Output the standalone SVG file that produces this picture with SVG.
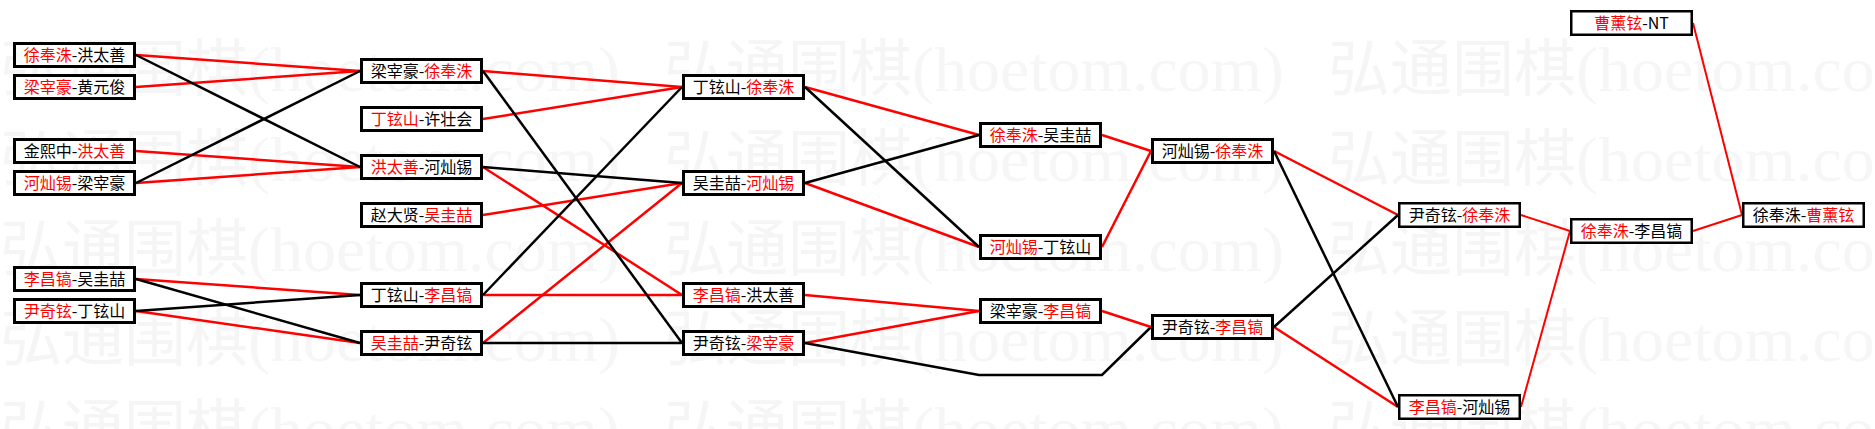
<svg xmlns="http://www.w3.org/2000/svg" xmlns:xlink="http://www.w3.org/1999/xlink" width="1875" height="429" viewBox="0 0 1875 429">
<style>
.bg{fill:#fff}
.wmc{font-family:"Noto Sans CJK SC",sans-serif;font-size:62px;fill:#f5f5f5}
.wml{font-family:"Liberation Serif","Noto Sans CJK SC",serif;font-size:64px;fill:#f6f6f6}
.n rect{fill:#fff;stroke:#000;stroke-width:3}
.n.s rect{stroke-width:2.5}
.n text{font-family:"Noto Sans CJK SC",sans-serif;font-size:16px;text-anchor:middle;fill:#000}
.w{fill:#f00}
.c line,.c polyline{fill:none;stroke-width:2.5}
.c .t{stroke-width:2}
.r{stroke:#f00}
.k{stroke:#000}
</style>
<defs>
<g id="wm"><text class="wmc" x="0" y="0">弘通围棋</text><text class="wml" x="248" y="0" textLength="372" lengthAdjust="spacingAndGlyphs">(hoetom.com)</text></g>
</defs>
<rect class="bg" x="0" y="0" width="1875" height="429"/>
<g id="watermark">
<use xlink:href="#wm" x="0" y="91"/><use xlink:href="#wm" x="664" y="91"/><use xlink:href="#wm" x="1328" y="91"/>
<use xlink:href="#wm" x="0" y="181"/><use xlink:href="#wm" x="664" y="181"/><use xlink:href="#wm" x="1328" y="181"/>
<use xlink:href="#wm" x="0" y="271"/><use xlink:href="#wm" x="664" y="271"/><use xlink:href="#wm" x="1328" y="271"/>
<use xlink:href="#wm" x="0" y="361"/><use xlink:href="#wm" x="664" y="361"/><use xlink:href="#wm" x="1328" y="361"/>
<use xlink:href="#wm" x="0" y="451"/><use xlink:href="#wm" x="664" y="451"/><use xlink:href="#wm" x="1328" y="451"/>
</g>
<g id="connectors" class="c">
<line class="r" x1="136" y1="55" x2="360" y2="71"/>
<line class="r" x1="136" y1="87" x2="360" y2="71"/>
<line class="r" x1="136" y1="151" x2="360" y2="167"/>
<line class="r" x1="136" y1="183" x2="360" y2="167"/>
<line class="r" x1="136" y1="279" x2="360" y2="295"/>
<line class="r" x1="136" y1="311" x2="360" y2="343"/>
<line class="k" x1="136" y1="55" x2="360" y2="167"/>
<line class="k" x1="136" y1="183" x2="360" y2="71"/>
<line class="k" x1="136" y1="279" x2="360" y2="343"/>
<line class="k" x1="136" y1="311" x2="360" y2="295"/>
<line class="r" x1="483" y1="71" x2="682" y2="87"/>
<line class="r" x1="483" y1="119" x2="682" y2="87"/>
<line class="r" x1="483" y1="167" x2="682" y2="295"/>
<line class="r" x1="483" y1="215" x2="682" y2="183"/>
<line class="r" x1="483" y1="295" x2="682" y2="295"/>
<line class="r" x1="483" y1="343" x2="682" y2="183"/>
<line class="k" x1="483" y1="71" x2="682" y2="343"/>
<line class="k" x1="483" y1="167" x2="682" y2="183"/>
<line class="k" x1="483" y1="295" x2="682" y2="87"/>
<line class="k" x1="483" y1="343" x2="682" y2="343"/>
<line class="r" x1="805" y1="87" x2="979" y2="135"/>
<line class="r" x1="805" y1="183" x2="979" y2="247"/>
<line class="r" x1="805" y1="295" x2="979" y2="311"/>
<line class="r" x1="805" y1="343" x2="979" y2="311"/>
<line class="k" x1="805" y1="87" x2="979" y2="247"/>
<line class="k" x1="805" y1="183" x2="979" y2="135"/>
<polyline class="k" points="805,343 979,375 1102,375 1151,327"/>
<line class="r" x1="1102" y1="135" x2="1151" y2="151"/>
<line class="r" x1="1102" y1="247" x2="1151" y2="151"/>
<line class="r" x1="1102" y1="311" x2="1151" y2="327"/>
<line class="r" x1="1274" y1="151" x2="1398" y2="215"/>
<line class="r" x1="1274" y1="327" x2="1398" y2="407"/>
<line class="k" x1="1274" y1="151" x2="1398" y2="407"/>
<line class="k" x1="1274" y1="327" x2="1398" y2="215"/>
<line class="r t" x1="1521" y1="215" x2="1570" y2="231"/>
<line class="r t" x1="1521" y1="407" x2="1570" y2="231"/>
<line class="r t" x1="1693" y1="231" x2="1742" y2="215"/>
<line class="r t" x1="1693" y1="23" x2="1742" y2="215"/>
</g>
<g id="n-a1" class="n"><rect x="14.5" y="43.5" width="120" height="23"/><text x="74.5" y="61"><tspan class="w">徐奉洙</tspan>-洪太善</text></g>
<g id="n-a2" class="n"><rect x="14.5" y="75.5" width="120" height="23"/><text x="74.5" y="93"><tspan class="w">梁宰豪</tspan>-黄元俊</text></g>
<g id="n-a3" class="n"><rect x="14.5" y="139.5" width="120" height="23"/><text x="74.5" y="157">金熙中-<tspan class="w">洪太善</tspan></text></g>
<g id="n-a4" class="n"><rect x="14.5" y="171.5" width="120" height="23"/><text x="74.5" y="189"><tspan class="w">河灿锡</tspan>-梁宰豪</text></g>
<g id="n-a5" class="n"><rect x="14.5" y="267.5" width="120" height="23"/><text x="74.5" y="285"><tspan class="w">李昌镐</tspan>-吴圭喆</text></g>
<g id="n-a6" class="n"><rect x="14.5" y="299.5" width="120" height="23"/><text x="74.5" y="317"><tspan class="w">尹奇铉</tspan>-丁铉山</text></g>
<g id="n-b1" class="n"><rect x="361.5" y="59.5" width="120" height="23"/><text x="421.5" y="77">梁宰豪-<tspan class="w">徐奉洙</tspan></text></g>
<g id="n-b2" class="n"><rect x="361.5" y="107.5" width="120" height="23"/><text x="421.5" y="125"><tspan class="w">丁铉山</tspan>-许壮会</text></g>
<g id="n-b3" class="n"><rect x="361.5" y="155.5" width="120" height="23"/><text x="421.5" y="173"><tspan class="w">洪太善</tspan>-河灿锡</text></g>
<g id="n-b4" class="n"><rect x="361.5" y="203.5" width="120" height="23"/><text x="421.5" y="221">赵大贤-<tspan class="w">吴圭喆</tspan></text></g>
<g id="n-b5" class="n"><rect x="361.5" y="283.5" width="120" height="23"/><text x="421.5" y="301">丁铉山-<tspan class="w">李昌镐</tspan></text></g>
<g id="n-b6" class="n"><rect x="361.5" y="331.5" width="120" height="23"/><text x="421.5" y="349"><tspan class="w">吴圭喆</tspan>-尹奇铉</text></g>
<g id="n-c1" class="n"><rect x="683.5" y="75.5" width="120" height="23"/><text x="743.5" y="93">丁铉山-<tspan class="w">徐奉洙</tspan></text></g>
<g id="n-c2" class="n"><rect x="683.5" y="171.5" width="120" height="23"/><text x="743.5" y="189">吴圭喆-<tspan class="w">河灿锡</tspan></text></g>
<g id="n-c3" class="n"><rect x="683.5" y="283.5" width="120" height="23"/><text x="743.5" y="301"><tspan class="w">李昌镐</tspan>-洪太善</text></g>
<g id="n-c4" class="n"><rect x="683.5" y="331.5" width="120" height="23"/><text x="743.5" y="349">尹奇铉-<tspan class="w">梁宰豪</tspan></text></g>
<g id="n-d1" class="n"><rect x="980.5" y="123.5" width="120" height="23"/><text x="1040.5" y="141"><tspan class="w">徐奉洙</tspan>-吴圭喆</text></g>
<g id="n-d2" class="n"><rect x="980.5" y="235.5" width="120" height="23"/><text x="1040.5" y="253"><tspan class="w">河灿锡</tspan>-丁铉山</text></g>
<g id="n-d3" class="n"><rect x="980.5" y="299.5" width="120" height="23"/><text x="1040.5" y="317">梁宰豪-<tspan class="w">李昌镐</tspan></text></g>
<g id="n-e1" class="n"><rect x="1152.5" y="139.5" width="120" height="23"/><text x="1212.5" y="157">河灿锡-<tspan class="w">徐奉洙</tspan></text></g>
<g id="n-e2" class="n"><rect x="1152.5" y="315.5" width="120" height="23"/><text x="1212.5" y="333">尹奇铉-<tspan class="w">李昌镐</tspan></text></g>
<g id="n-f1" class="n s"><rect x="1399.25" y="203.25" width="120.5" height="23.5"/><text x="1459.5" y="221">尹奇铉-<tspan class="w">徐奉洙</tspan></text></g>
<g id="n-f2" class="n s"><rect x="1399.25" y="395.25" width="120.5" height="23.5"/><text x="1459.5" y="413"><tspan class="w">李昌镐</tspan>-河灿锡</text></g>
<g id="n-g0" class="n s"><rect x="1571.25" y="11.25" width="120.5" height="23.5"/><text x="1631.5" y="29"><tspan class="w">曹薰铉</tspan>-NT</text></g>
<g id="n-g1" class="n s"><rect x="1571.25" y="219.25" width="120.5" height="23.5"/><text x="1631.5" y="237"><tspan class="w">徐奉洙</tspan>-李昌镐</text></g>
<g id="n-h1" class="n s"><rect x="1743.25" y="203.25" width="120.5" height="23.5"/><text x="1803.5" y="221">徐奉洙-<tspan class="w">曹薰铉</tspan></text></g>
</svg>
